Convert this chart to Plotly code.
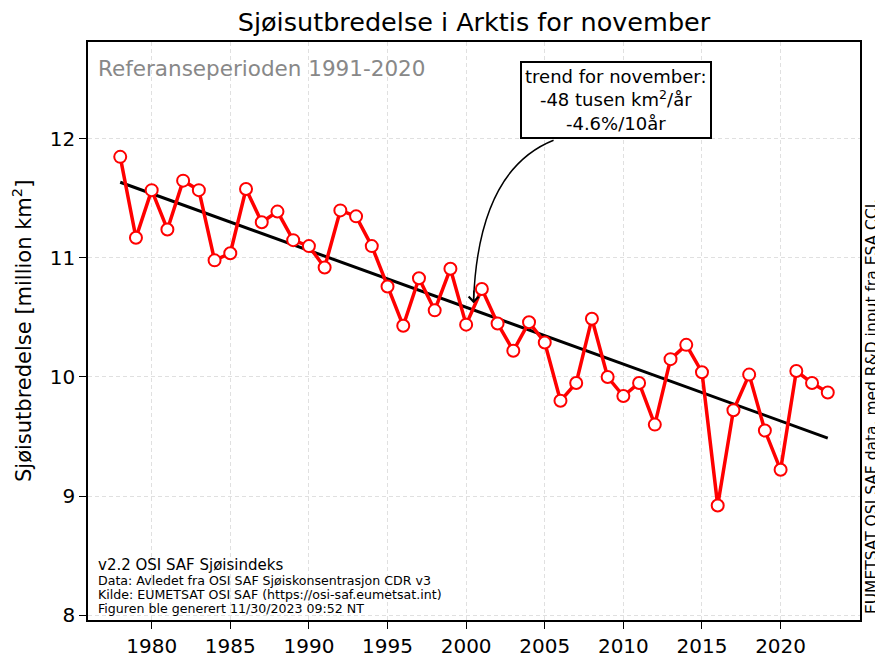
import plotly.graph_objects as go
import numpy as np

years = list(range(1978, 2024))
extent = [11.85, 11.17, 11.57, 11.24, 11.65, 11.57, 10.98, 11.04, 11.58, 11.30,
          11.39, 11.15, 11.10, 10.92, 11.40, 11.35, 11.10, 10.76, 10.43, 10.83,
          10.56, 10.91, 10.44, 10.74, 10.45, 10.22, 10.46, 10.29, 9.80, 9.95,
          10.49, 10.00, 9.84, 9.95, 9.60, 10.15, 10.27, 10.04, 8.92, 9.72,
          10.02, 9.55, 9.22, 10.05, 9.95, 9.87]
x_ticks = [1980, 1985, 1990, 1995, 2000, 2005, 2010, 2015, 2020]
y_ticks = [8, 9, 10, 11, 12]

slope, intercept = np.polyfit(years, extent, 1)
trend = [slope * y + intercept for y in years]

FONT = "DejaVu Sans"
fig = go.Figure()
fig.add_trace(go.Scatter(
    x=[years[0], years[-1]], y=[trend[0], trend[-1]], mode="lines",
    line=dict(color="black", width=3), showlegend=False, hoverinfo="skip"))
fig.add_trace(go.Scatter(
    x=years, y=extent, mode="lines+markers",
    line=dict(color="#ff0000", width=3.5),
    marker=dict(size=12, color="white", line=dict(color="#ff0000", width=2)),
    showlegend=False))

# curved arrow from annotation box to trend line
fig.add_shape(type="path", xref="x", yref="y",
              path="M 2005.56,11.99 Q 2000.79,11.74 2000.47,10.64",
              line=dict(color="black", width=1.5))
fig.add_annotation(x=2000.47, y=10.62, ax=2000.49, ay=10.74, axref="x", ayref="y",
                   xref="x", yref="y", text="", showarrow=True,
                   arrowhead=4, arrowsize=1.3, arrowwidth=1.5, arrowcolor="black")

fig.add_annotation(x=2009.5, y=12.33, xref="x", yref="y",
                   text="trend for november:<br>-48 tusen km<sup>2</sup>/år<br>-4.6%/10år",
                   showarrow=False, font=dict(family=FONT, size=18, color="black"),
                   bgcolor="white", bordercolor="black", borderwidth=2, borderpad=3)

fig.add_annotation(x=0.01, y=0.955, xref="paper", yref="paper",
                   text="Referanseperioden 1991-2020", showarrow=False,
                   xanchor="left", yanchor="middle",
                   font=dict(family=FONT, size=21.5, color="#888888"))

fig.add_annotation(x=0.01, y=(620 - 565) / 578, xref="paper", yref="paper",
                   text="v2.2 OSI SAF Sjøisindeks", showarrow=False,
                   xanchor="left", yanchor="middle",
                   font=dict(family=FONT, size=15, color="black"))
small = ["Data: Avledet fra OSI SAF Sjøiskonsentrasjon CDR v3",
         "Kilde: EUMETSAT OSI SAF (https://osi-saf.eumetsat.int)",
         "Figuren ble generert 11/30/2023 09:52 NT"]
for i, t in enumerate(small):
    fig.add_annotation(x=0.01, y=(620 - (580.5 + 14 * i)) / 578, xref="paper", yref="paper",
                       text=t, showarrow=False, xanchor="left", yanchor="middle",
                       font=dict(family=FONT, size=12.6, color="black"))

fig.add_annotation(x=1.0155, y=0.37, xref="paper", yref="paper",
                   text="EUMETSAT OSI SAF data, med R&D input fra ESA CCI.",
                   showarrow=False, textangle=-90, xanchor="center", yanchor="middle",
                   font=dict(family=FONT, size=15.5, color="black"))

fig.add_annotation(x=-0.0855, y=0.5, xref="paper", yref="paper",
                   text="Sjøisutbredelse [million km<sup>2</sup>]",
                   showarrow=False, textangle=-90, xanchor="center", yanchor="middle",
                   font=dict(family=FONT, size=21, color="black"))

# page body adds an 8px offset, so the figure is sized to fit the window
fig.update_layout(
    width=875, height=649,
    margin=dict(l=80, r=23, t=34, b=37),
    paper_bgcolor="white", plot_bgcolor="white",
    title=dict(text="Sjøisutbredelse i Arktis for november", x=0.5,
               xanchor="center", xref="paper",
               y=1 - 14 / 649, yanchor="middle",
               font=dict(family=FONT, size=25.5, color="black")),
    font=dict(family=FONT, color="black"),
)
axis_style = dict(ticks="outside", ticklen=7, tickcolor="black", tickwidth=1.2,
                  tickfont=dict(size=20, family=FONT, color="black"),
                  showline=True, linecolor="black", linewidth=1.5, mirror=True,
                  showgrid=True, gridcolor="#e0e0e0", griddash="4px,3px", gridwidth=0.8,
                  zeroline=False, automargin=False)
fig.update_xaxes(range=[1975.95, 2025.05], tickvals=x_ticks, **axis_style)
fig.update_yaxes(range=[7.958, 12.815], tickvals=y_ticks, **axis_style)

fig.write_html("out.html")
